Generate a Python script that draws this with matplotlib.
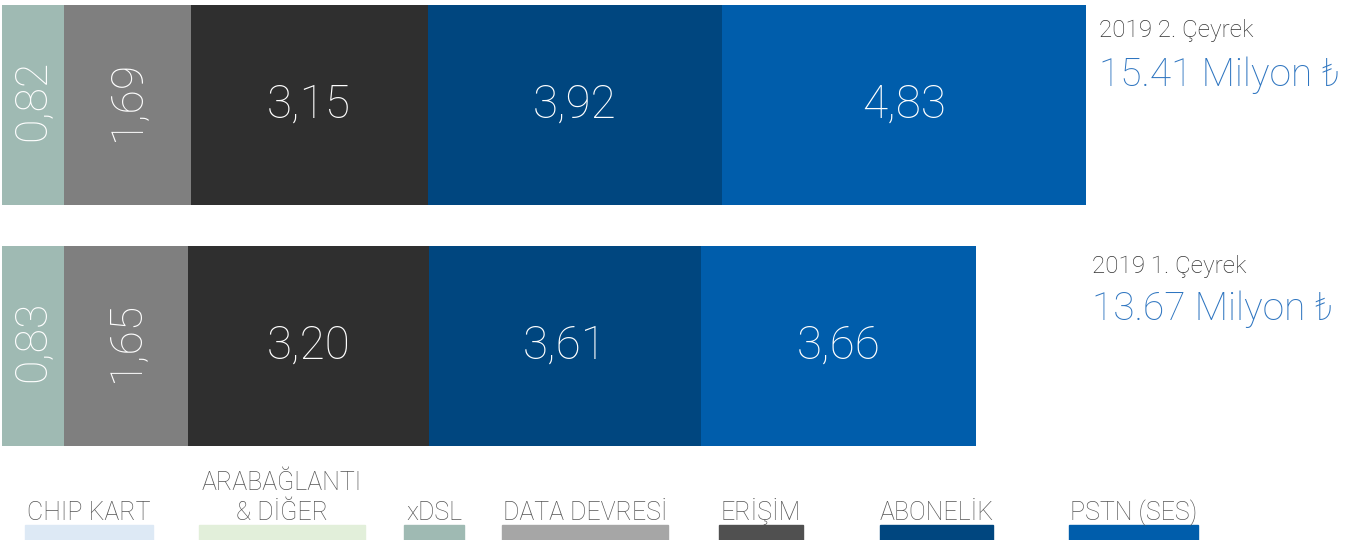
import matplotlib
matplotlib.use("Agg")
import matplotlib.pyplot as plt
from matplotlib.patches import Rectangle

plt.rcParams['font.family'] = ['Roboto', 'DejaVu Sans']

# Quarterly revenue breakdown (million TL)
periods = ["2019 2. Çeyrek", "2019 1. Çeyrek"]
totals = ["15.41 Milyon ₺", "13.67 Milyon ₺"]
segment_names = ["xDSL", "DATA DEVRESİ", "ERİŞİM", "ABONELİK", "PSTN (SES)"]
q2_values = [0.82, 1.69, 3.15, 3.92, 4.83]
q1_values = [0.83, 1.65, 3.20, 3.61, 3.66]
bar_colors = ["#9fbab3", "#7f7f7f", "#2f2f2f", "#00467f", "#005dab"]

legend_labels = ["CHIP KART", "ARABAĞLANTI\n& DİĞER", "xDSL", "DATA DEVRESİ",
                 "ERİŞİM", "ABONELİK", "PSTN (SES)"]
legend_colors = ["#dde9f5", "#e2efda", "#9fbab3", "#a6a6a6",
                 "#505050", "#00467f", "#005dab"]

W, H = 1357, 540
fig = plt.figure(figsize=(W / 100, H / 100), dpi=100)
ax = fig.add_axes([0, 0, 1, 1])
ax.set_axis_off()

px_per_unit = 75.2
ax.set_xlim(-2 / px_per_unit, (W - 2) / px_per_unit)
row_gap = 241.0
ax.set_ylim((H - 105) / row_gap, -105 / row_gap)

bar_h = 200 / row_gap
rows = [q2_values, q1_values]
for r, vals in enumerate(rows):
    left = 0.0
    for i, v in enumerate(vals):
        ax.barh(r, v, left=left, height=bar_h, color=bar_colors[i],
                edgecolor="none")
        cx = left + v / 2
        txt = f"{v:.2f}".replace(".", ",")
        if v < 2.0:
            ax.text(cx, r - 0.02, txt, rotation=90, ha="center", va="center",
                    color="white", fontsize=32, fontweight="light")
        else:
            ax.text(cx, r, txt, ha="center", va="center",
                    color="white", fontsize=33, fontweight="light")
        left += v

# Period titles at the right
title_pos = [(1099, 31, 75), (1092, 266, 309)]
for (tx, ty1, ty2), p, t in zip(title_pos, periods, totals):
    fig.text(tx / W, 1 - ty1 / H, p, ha="left", va="center",
             color="#333333", fontsize=17.5, fontweight="light")
    fig.text(tx / W, 1 - ty2 / H, t, ha="left", va="center",
             color="#2e75c0", fontsize=28, fontweight="light")

# Legend swatches along the bottom edge
swatch_x = [(25, 153), (199, 365), (404, 464), (502, 668),
            (719, 803), (880, 993), (1069, 1198)]
for (x0, x1), lab, col in zip(swatch_x, legend_labels, legend_colors):
    fig.patches.append(Rectangle((x0 / W, 0), (x1 - x0) / W, 15 / H,
                                 transform=fig.transFigure, color=col,
                                 zorder=1))
    fig.text((x0 + x1) / 2 / W, 1 - 520 / H, lab, ha="center", va="baseline",
             color="#555555", fontsize=18, fontweight="light",
             multialignment="center", linespacing=1.3)

fig.savefig("out.png", dpi=100, facecolor="white")
